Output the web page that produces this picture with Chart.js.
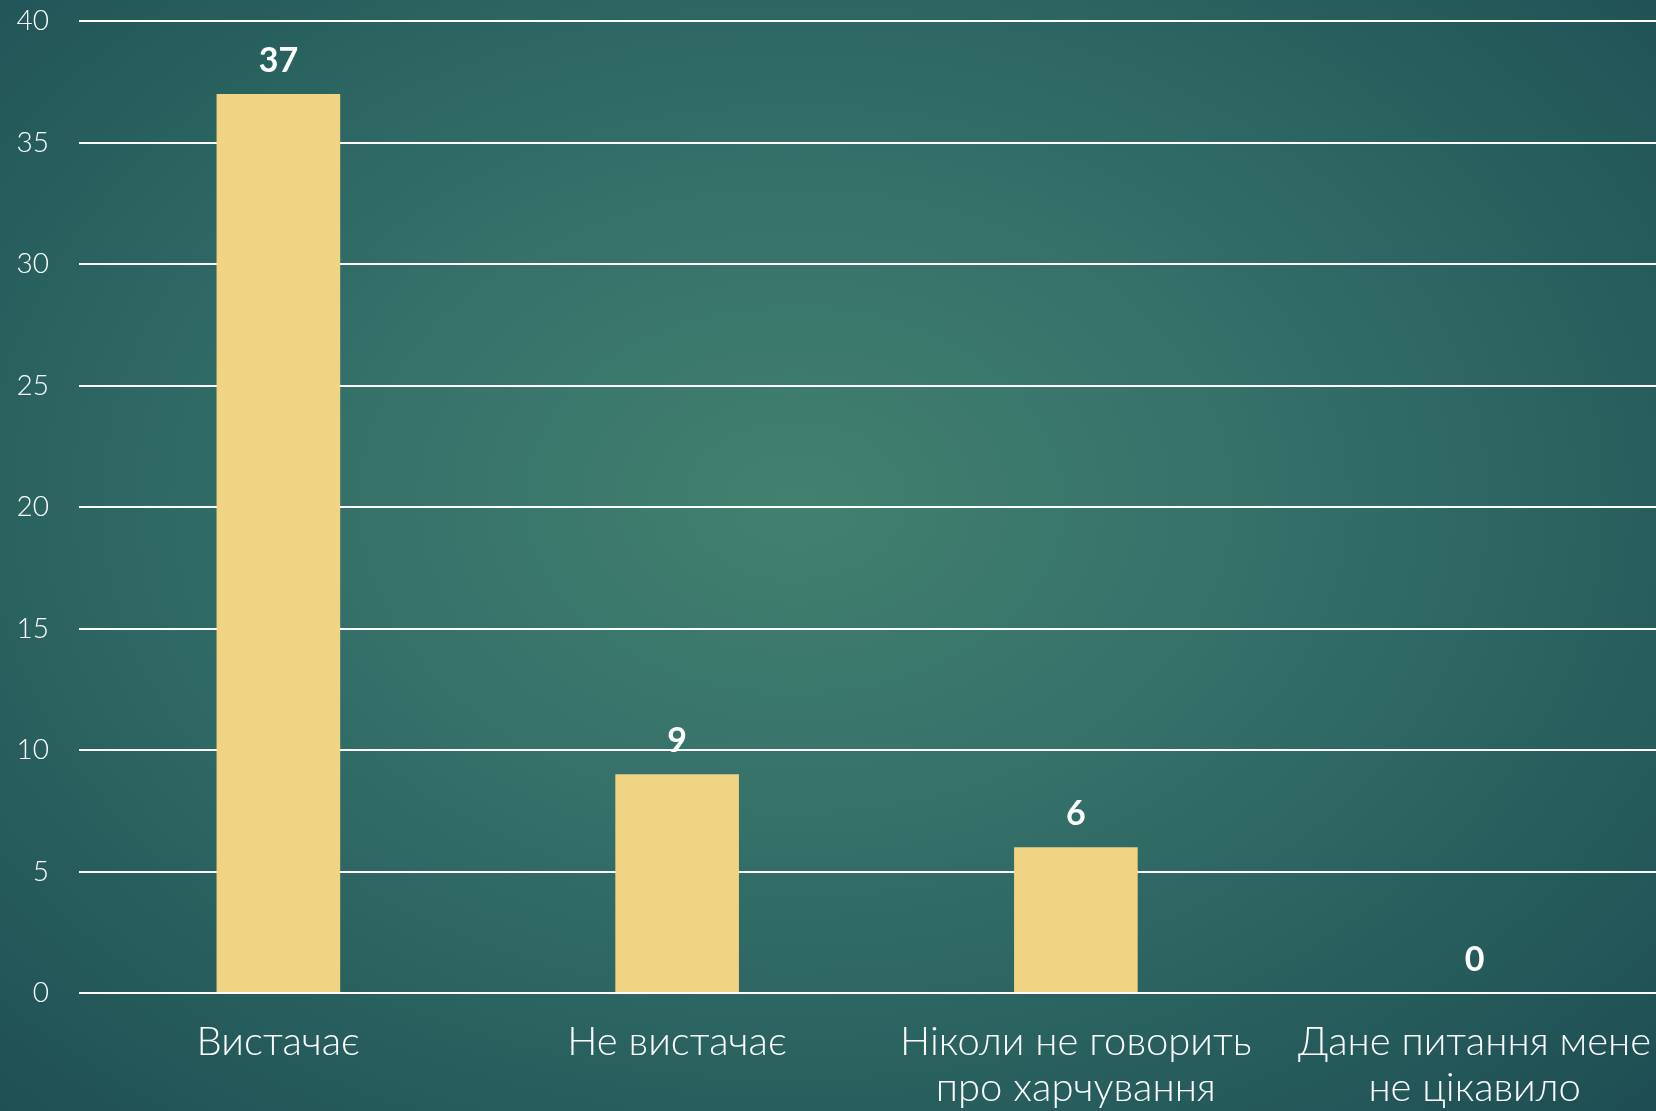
<!DOCTYPE html>
<html>
<head>
<meta charset="utf-8">
<script src="https://cdn.jsdelivr.net/npm/chart.js@4.4.1/dist/chart.umd.min.js"></script>
<style>
html,body{margin:0;padding:0;width:1656px;height:1111px;overflow:hidden;}
body{background:radial-gradient(ellipse 75% 80% at 48% 45%, #42816f 0%, #36716a 35%, #29615f 65%, #1d4c52 100%);}
#wrap{position:absolute;left:0;top:0;width:1674px;height:1111px;}
</style>
</head>
<body>
<div id="wrap"><canvas id="c"></canvas></div>
<script>
const categories = ['Вистачає', 'Не вистачає', ['Ніколи не говорить', 'про харчування'], ['Дане питання мене', 'не цікавило']];
const values = [37, 9, 6, 0];
const yTicks = [0, 5, 10, 15, 20, 25, 30, 35, 40];

const FONT = "'Lato', 'Noto Sans', sans-serif";

const valueLabels = {
  id: 'valueLabels',
  afterDatasetsDraw(chart) {
    const ctx = chart.ctx;
    const meta = chart.getDatasetMeta(0);
    ctx.save();
    ctx.fillStyle = '#ffffff';
    ctx.font = "bold 34px " + FONT;
    ctx.textAlign = 'center';
    ctx.textBaseline = 'middle';
    meta.data.forEach((bar, i) => {
      ctx.fillText(String(values[i]), bar.x, bar.y - 33);
    });
    ctx.restore();
  }
};

new Chart(document.getElementById('c'), {
  type: 'bar',
  data: {
    labels: categories,
    datasets: [{
      data: values,
      backgroundColor: '#f0d383',
      borderWidth: 0,
      categoryPercentage: 1.0,
      barPercentage: 0.31
    }]
  },
  options: {
    responsive: true,
    maintainAspectRatio: false,
    animation: false,
    layout: { padding: { top: 21, right: 0, left: 0, bottom: 0 } },
    plugins: { legend: { display: false }, tooltip: { enabled: false } },
    scales: {
      x: {
        grid: { display: false, drawTicks: false },
        border: { display: false },
        ticks: {
          color: '#ffffff',
          font: { family: FONT, size: 40, weight: 300, lineHeight: 1.15 },
          padding: 26,
          maxRotation: 0,
          autoSkip: false
        },
        afterFit(scale) { scale.height = 118; scale.paddingLeft = 0; scale.paddingRight = 0; }
      },
      y: {
        min: 0, max: 40,
        afterBuildTicks(scale) { scale.ticks = yTicks.map(v => ({ value: v })); },
        grid: { color: '#ffffff', lineWidth: 2, drawTicks: false },
        border: { display: false },
        ticks: {
          color: '#ffffff',
          font: { family: FONT, size: 28, weight: 300 },
          padding: 30
        },
        afterFit(scale) { scale.width = 79; scale.paddingTop = 0; scale.paddingBottom = 0; }
      }
    }
  },
  plugins: [valueLabels]
});
</script>
</body>
</html>
